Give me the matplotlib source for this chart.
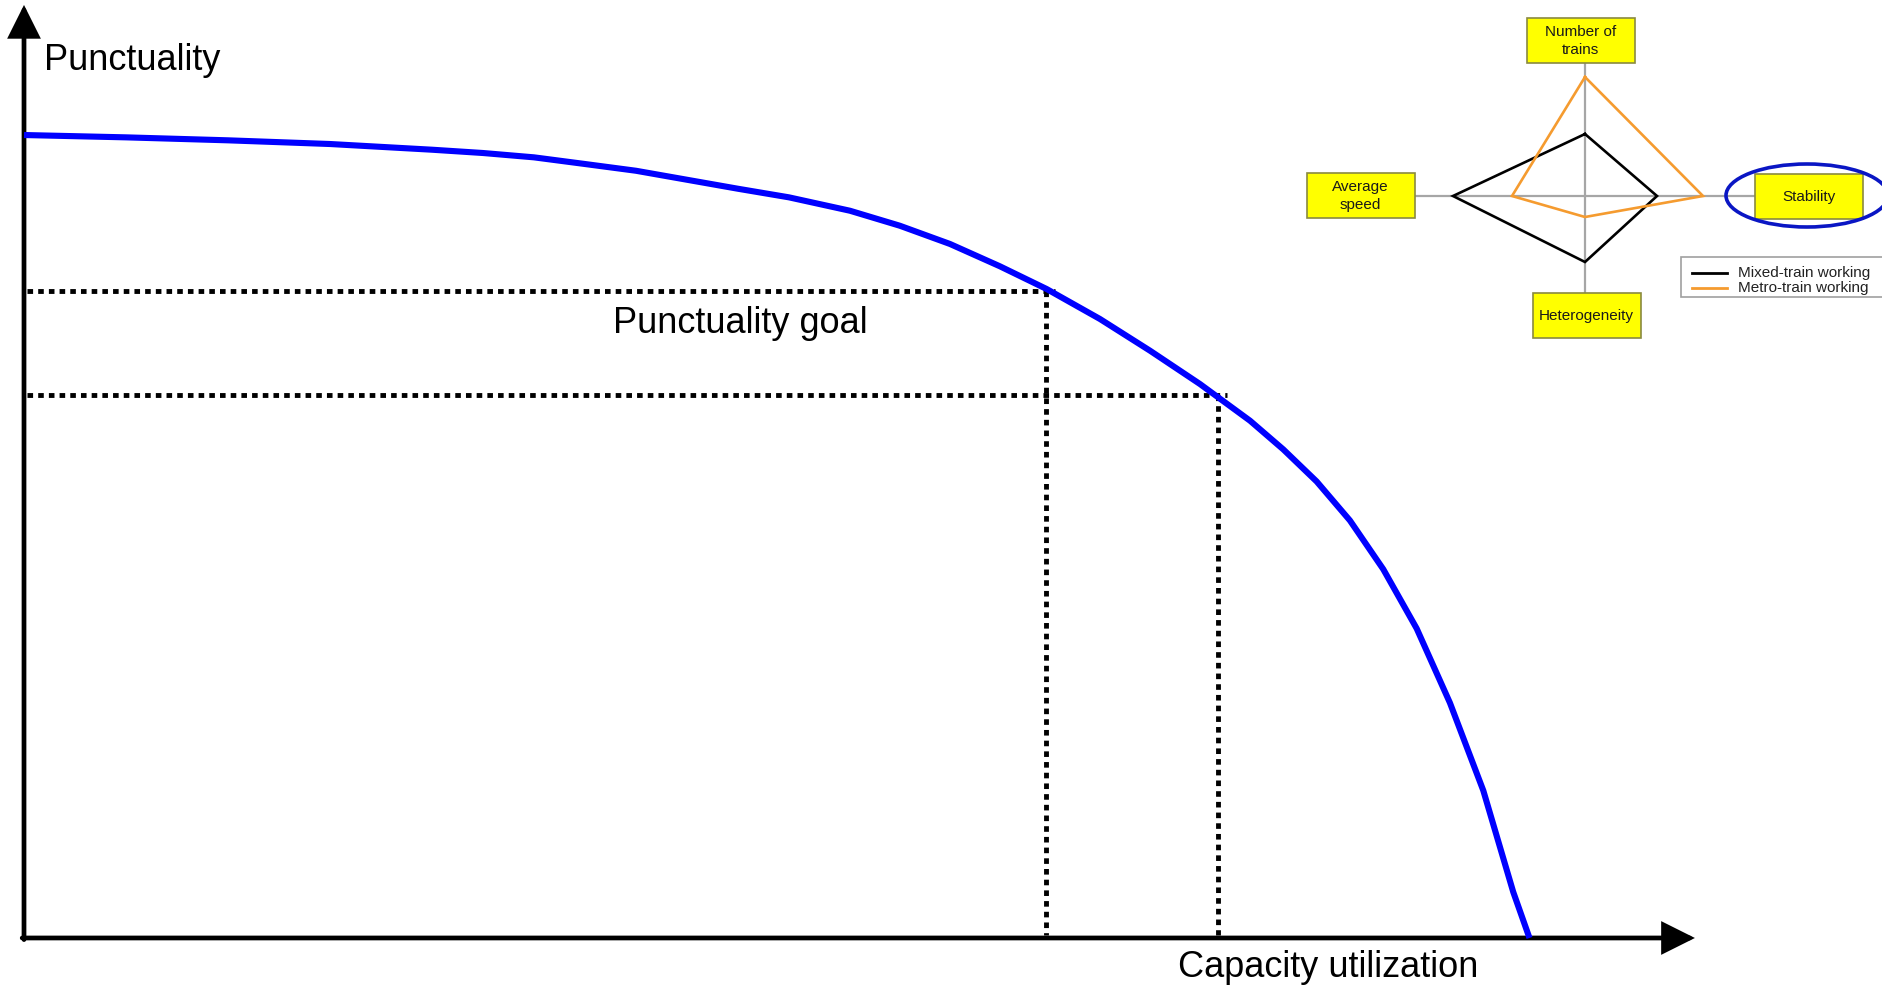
import numpy as np
import matplotlib
matplotlib.use("Agg")
import matplotlib.pyplot as plt
from matplotlib.patches import Rectangle, Ellipse

plt.rcParams['font.family'] = ['Liberation Sans', 'DejaVu Sans']

# ---------------- data ----------------
# main curve: capacity utilization (x) vs punctuality (y), arbitrary 0-100 units
capacity = [0, 6.78, 13.56, 20.35, 27.13, 30.52, 33.91, 37.30, 40.69, 44.08,
            47.47, 50.86, 54.92, 58.24, 61.57, 64.89, 68.00, 71.54, 74.87, 78.19,
            81.52, 83.73, 85.95, 88.16, 90.38, 92.60, 94.81, 97.03, 99.02, 100.1]
punctuality = [100, 99.71, 99.34, 98.88, 98.17, 97.76, 97.22, 96.39, 95.55, 94.43,
               93.31, 92.24, 90.57, 88.70, 86.43, 83.65, 80.82, 77.09, 73.14, 68.99,
               64.42, 60.85, 56.85, 52.00, 45.92, 38.54, 29.29, 18.36, 5.73, 0.0]
goal_punctuality = [80.61, 67.62]   # punctuality goal levels (dotted)
goal_capacity = [67.93, 79.41]      # capacity reached at each goal level

axis_labels = ["Punctuality", "Capacity utilization"]
goal_label = "Punctuality goal"

# inset radar chart
radar_axes = ["Number of\ntrains", "Stability", "Heterogeneity", "Average\nspeed"]
radar_angles_deg = [90, 0, 270, 180]
mixed_train = [62, 72, 66, 132]
metro_train = [119, 118, 21, 73]
series_names = ["Mixed-train working", "Metro-train working"]
series_colors = ["#000000", "#f59b2f"]

# ---------------- figure ----------------
W, H, DPI = 1882, 987, 100
fig = plt.figure(figsize=(W / DPI, H / DPI), dpi=DPI)
fig.patch.set_facecolor("white")

ax = fig.add_axes([0, 0, 1, 1])
ax.set_xlim(-1.596, 123.54)
ax.set_ylim(-5.98, 116.94)
ax.axis("off")

# axes arrows
arrow_kw = dict(arrowstyle="-|>", lw=3.4, color="black", mutation_scale=47,
                shrinkA=0, shrinkB=0, joinstyle="miter")
ax.annotate("", xy=(111.1, 0), xytext=(-0.12, 0), arrowprops=arrow_kw)
ax.annotate("", xy=(0, 116.2), xytext=(0, -0.2), arrowprops=arrow_kw)

# curve
ax.plot(capacity, punctuality, color="#0000ff", lw=4.4, solid_capstyle="butt",
        solid_joinstyle="round", clip_on=False, zorder=4)

# goal lines
dot_style = dict(color="black", lw=3.5, linestyle=(0, (1.15, 1.05)),
                 dash_capstyle="butt", zorder=3)
for g, xg in zip(goal_punctuality, goal_capacity):
    ax.plot([0.2, xg + 0.6], [g, g], **dot_style)
    ax.plot([xg, xg], [g, 0.35], **dot_style)

ax.text(1.33, 108.2, axis_labels[0], fontsize=26, ha="left", va="baseline")
ax.text(47.6, 75.5, goal_label, fontsize=26, ha="center", va="baseline")
ax.text(86.7, -4.73, axis_labels[1], fontsize=26, ha="center", va="baseline")

# ---------------- inset radar ----------------
ix0, iy0, iw, ih = 1290, 0, 592, 360
ins = fig.add_axes([ix0 / W, (H - iy0 - ih) / H, iw / W, ih / H])
ins.set_xlim(-295, 297)
ins.set_ylim(-163, 197)
ins.axis("off")
ins.patch.set_alpha(0)

spoke_col = "#a6a6a6"
ins.plot([-171, 170], [0, 0], color=spoke_col, lw=1.6, zorder=1)
ins.plot([0, 0], [-96, 134], color=spoke_col, lw=1.6, zorder=1)

ang = np.deg2rad(radar_angles_deg)
for vals, col in zip([mixed_train, metro_train], series_colors):
    v = np.array(vals + vals[:1], dtype=float)
    a = np.concatenate([ang, ang[:1]])
    ins.plot(v * np.cos(a), v * np.sin(a), color=col, lw=1.9, zorder=3,
             solid_joinstyle="miter")

box_centers = [(-4.5, 156), (224, 0), (1.5, -119), (-224.5, 1)]
bw, bh = 108, 45
for (cx, cy), lab in zip(box_centers, radar_axes):
    ins.add_patch(Rectangle((cx - bw / 2, cy - bh / 2), bw, bh,
                            facecolor="#ffff00", edgecolor="#8a8a40", lw=1.2,
                            zorder=4))
    ins.text(cx, cy, lab, ha="center", va="center", fontsize=11,
             color="#1a1a1a", linespacing=1.3, zorder=5)

# highlight ellipse around "Stability"
ins.add_patch(Ellipse((222, 0.5), 162, 63, facecolor="none",
                      edgecolor="#0a16c4", lw=2.6, zorder=6, clip_on=False))

# legend
ins.add_patch(Rectangle((96, -101), 220, 40, facecolor="white",
                        edgecolor="#a0a0a0", lw=1.2, zorder=4, clip_on=False))
for i, (name, col) in enumerate(zip(series_names, series_colors)):
    yy = -77 - 15 * i
    ins.plot([107, 142], [yy, yy], color=col, lw=2.0, zorder=5)
    ins.text(153, yy + 1, name, ha="left", va="center", fontsize=11,
             color="#222222", zorder=5)

fig.savefig("out.png", dpi=DPI)
